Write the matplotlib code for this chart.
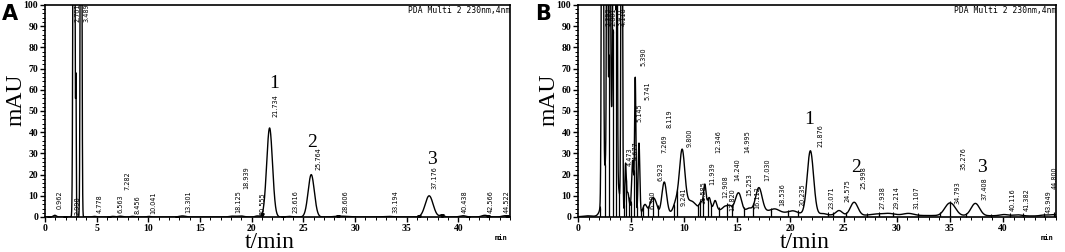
import numpy as np
import matplotlib.pyplot as plt
from matplotlib.ticker import MultipleLocator

# ---- panel A: peak table (retention time, height, width)
a_rt = [0.952, 2.80, 2.998, 3.489, 4.778, 6.563, 7.282, 8.456, 10.041, 13.301, 18.125, 18.939,
        20.555, 21.734, 23.616, 25.764, 28.606, 33.194, 37.176, 38.4, 40.438, 42.566, 44.522]
a_height = [0.8, 400, 60, 400, 0.3, 0.3, 0.4, 0.3, 0.3, 0.5, 0.4, 0.5,
            0.5, 42, 0.3, 20, 0.4, 0.3, 10, 0.8, 0.6, 0.8, 0.6]
a_width = [0.15, 0.07, 0.03, 0.06, 0.2, 0.2, 0.2, 0.2, 0.2, 0.3, 0.3, 0.3,
           0.2, 0.28, 0.3, 0.3, 0.6, 0.5, 0.38, 0.2, 0.3, 0.3, 0.3]
a_labels = ["0.962", "2.701", "2.998", "3.489", "4.778", "6.563", "7.282", "8.456", "10.041", "13.301",
            "18.125", "18.939", "20.555", "21.734", "23.616", "25.764", "28.606", "33.194", "37.176",
            "40.438", "42.566", "44.522"]
a_marks = [0.4, 1.9, 6.2, 12.8, 21.0, 23.0, 28.4, 36.2, 38.4, 40.9, 42.9, 44.7]

# ---- panel B
b_rt = [0.9, 2.30, 2.75, 3.00, 3.40, 3.65, 4.118, 3.1, 4.473, 4.677, 5.145, 5.390, 5.741,
        6.300, 6.923, 7.269, 8.119, 9.241, 9.800, 10.6, 11.585, 11.939, 12.346, 12.908,
        13.820, 14.240, 14.995, 15.253, 16.112, 17.030, 18.536, 20.235, 21.876, 23.071,
        24.575, 25.998, 27.938, 29.214, 31.107, 34.793, 35.276, 37.408, 40.116, 41.382,
        43.949, 44.800, 14.0, 30.0]
b_height = [0.4, 400, 300, 200, 400, 200, 300, 50, 20, 11, 26, 64, 34,
            5, 6, 5.5, 15, 5, 28, 5, 3.5, 12, 6, 4.5,
            1.5, 2, 6, 3.5, 1, 11, 1.5, 1.2, 30, 0.6,
            2.2, 6.2, 0.6, 1.0, 1.0, 3.6, 3.6, 5.8, 0.6, 0.5,
            0.5, 0.7, 3.0, 0.7]
b_width = [0.4, 0.07, 0.05, 0.05, 0.07, 0.05, 0.06, 0.45, 0.06, 0.15, 0.1, 0.06, 0.08,
           0.2, 0.2, 0.2, 0.22, 0.25, 0.25, 0.5, 0.15, 0.12, 0.15, 0.15,
           0.2, 0.2, 0.25, 0.2, 0.2, 0.3, 0.4, 0.4, 0.3, 0.3,
           0.3, 0.35, 0.5, 0.6, 0.5, 0.4, 0.4, 0.4, 0.4, 0.4,
           0.4, 0.3, 4.5, 15]
b_labels = ["2.392", "2.801", "3.451", "4.118", "4.473", "4.677", "5.145", "5.390", "5.741",
            "6.300", "6.923", "7.269", "8.119", "9.241", "9.800", "11.585", "11.939", "12.346",
            "12.908", "13.820", "14.240", "14.995", "15.253", "16.112", "17.030", "18.536",
            "20.235", "21.876", "23.071", "24.575", "25.998", "27.938", "29.214", "31.107",
            "34.793", "35.276", "37.408", "40.116", "41.382", "43.949", "44.800"]
b_drops = [2.05, 2.55, 2.9, 3.25, 3.55, 3.9, 4.3, 4.55, 4.8, 4.95, 5.27, 5.55, 5.95, 6.15,
           6.55, 7.1, 7.5, 9.0, 9.35, 11.3, 11.5, 11.75, 12.2, 12.55, 13.3, 14.05, 14.5,
           15.65, 16.5, 18.2, 19.8, 20.7, 23.5, 24.05, 25.2, 27.2, 28.3, 29.7, 32.0, 34.1,
           35.05, 36.5, 38.9, 40.7, 41.9, 43.9, 44.8]

# label placement: x centre (min) and bottom of text (mAU)
a_label_x = [1.45, 3.1, 3.1, 4.0, 5.3, 7.3, 8.0, 9.0, 10.5, 13.9, 18.7, 19.5, 21.0, 22.3, 24.2,
             26.5, 29.1, 33.9, 37.7, 40.6, 43.1, 44.7]
a_label_y = [4, 92, 1, 92, 2, 2, 12.5, 1.5, 1.5, 2, 2, 13, 1, 47, 2, 22, 2, 2, 13, 2, 2, 2]
b_label_x = [2.9, 3.3, 3.9, 4.3, 4.9, 5.4, 5.8, 6.15, 6.5, 7.0, 7.8, 8.1, 8.6, 9.9, 10.5,
             11.8, 12.6, 13.2, 13.9, 14.5, 15.0, 15.9, 16.1, 16.9, 17.8, 19.2, 21.1, 22.8,
             23.9, 25.4, 26.9, 28.7, 30.0, 31.9, 35.7, 36.3, 38.3, 40.9, 42.2, 44.3, 44.85]
b_label_y = [90, 90, 90, 90, 24, 27, 45, 71, 55, 4, 17, 30, 42, 5, 33, 6, 15, 30, 9, 3, 17,
             30, 10, 4, 17, 5, 5, 33, 4, 7, 13, 4, 4, 4, 6, 22, 8, 3, 3, 2, 13]

fig = plt.figure(figsize=(10.65, 2.52), dpi=100)
ax_a = fig.add_axes([45 / 1065, 35 / 252, 465 / 1065, 212 / 252])
ax_b = fig.add_axes([578 / 1065, 35 / 252, 478 / 1065, 212 / 252])

t = np.linspace(0, 45, 9000)


def trace(rts, hs, ws):
    y = np.zeros_like(t)
    for r, h, w in zip(rts, hs, ws):
        y += h * np.exp(-0.5 * ((t - r) / w) ** 2)
    return y


lab_font = dict(family=["Liberation Sans Narrow", "DejaVu Sans"], fontsize=4.7, rotation=90,
                ha="center", va="bottom")
serif = ["Liberation Serif", "DejaVu Serif"]

ya = trace(a_rt, a_height, a_width)
ax_a.plot(t, ya, color="black", lw=1.0)
ax_a.plot(a_marks, np.interp(a_marks, t, ya) - 0.5, "v", color="black", ms=2.5)
for lab, x, y in zip(a_labels, a_label_x, a_label_y):
    ax_a.text(x, y, lab, clip_on=False, **lab_font)

yb = trace(b_rt, b_height, b_width)
ax_b.plot(t, yb, color="black", lw=1.0)
ax_b.vlines(b_drops, 0, np.interp(b_drops, t, yb), color="black", lw=0.9)
ax_b.plot(b_drops, np.interp(b_drops, t, yb), "|", color="black", ms=3, mew=0.8)
for lab, x, y in zip(b_labels, b_label_x, b_label_y):
    ax_b.text(x, y, lab, clip_on=False, **lab_font)

# compound numbers
ax_a.text(22.2, 61, "1", family=serif, fontsize=14, ha="center")
ax_a.text(25.8, 33, "2", family=serif, fontsize=14, ha="center")
ax_a.text(37.4, 25, "3", family=serif, fontsize=14, ha="center")
ax_b.text(21.8, 44, "1", family=serif, fontsize=14, ha="center")
ax_b.text(26.2, 21, "2", family=serif, fontsize=14, ha="center")
ax_b.text(38.0, 21, "3", family=serif, fontsize=14, ha="center")

for ax, x0 in ((ax_a, 270), (ax_b, 805)):
    ax.set_xlim(0, 45)
    ax.set_ylim(0, 100)
    ax.xaxis.set_major_locator(MultipleLocator(5))
    ax.xaxis.set_minor_locator(MultipleLocator(1))
    ax.yaxis.set_major_locator(MultipleLocator(10))
    ax.yaxis.set_minor_locator(MultipleLocator(2))
    ax.set_xticks([0, 5, 10, 15, 20, 25, 30, 35, 40])
    ax.tick_params(which="major", length=3.5, width=1.0, pad=1.5, labelsize=7)
    ax.tick_params(which="minor", length=2, width=0.7)
    for lbl in ax.get_xticklabels() + ax.get_yticklabels():
        lbl.set_family(serif)
        lbl.set_fontweight("bold")
    for sp in ax.spines.values():
        sp.set_linewidth(1.2)
    ax.text(1.0, 0.995, "PDA Multi 2 230nm,4nm", transform=ax.transAxes, ha="right", va="top",
            family="DejaVu Sans Mono", fontsize=5.8)
    ax.text(0.995, -0.085, "min", transform=ax.transAxes, ha="right", va="top",
            family="DejaVu Sans Mono", fontsize=5, fontweight="bold")
    fig.text(x0 / 1065, 1 - 243 / 252, "t/min", family=serif, fontsize=17, ha="center", va="center")

fig.text(16 / 1065, 1 - 100 / 252, "mAU", family=serif, fontsize=17, rotation=90, ha="center", va="center")
fig.text(549 / 1065, 1 - 100 / 252, "mAU", family=serif, fontsize=17, rotation=90, ha="center", va="center")
fig.text(2 / 1065, 1 - 4 / 252, "A", fontsize=15, fontweight="bold", ha="left", va="top")
fig.text(535 / 1065, 1 - 4 / 252, "B", fontsize=15, fontweight="bold", ha="left", va="top")

fig.savefig("out.png", dpi=100, facecolor="white")
